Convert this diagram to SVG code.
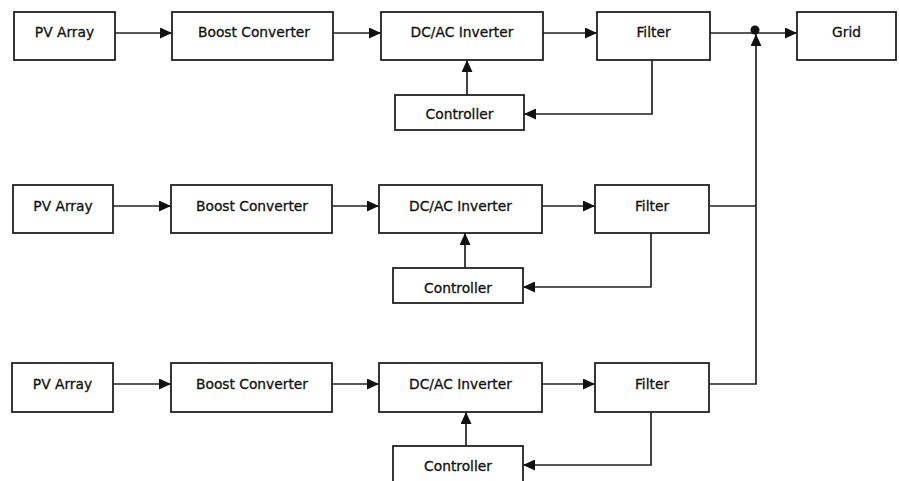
<svg xmlns="http://www.w3.org/2000/svg" width="899" height="481" viewBox="0 0 899 481">
  <style>
    .box { fill: #ffffff; stroke: #222222; stroke-width: 1.8; }
    .lbl { font-family: "DejaVu Sans", "Liberation Sans", sans-serif; font-size: 13.8px; fill: #111111; stroke: #111111; stroke-width: 0.3; text-anchor: middle; }
    .wire { fill: none; stroke: #222222; stroke-width: 1.7; }
    .arr { marker-end: url(#head); }
  </style>
  <defs>
    <marker id="head" markerUnits="userSpaceOnUse" markerWidth="12" markerHeight="11" refX="12" refY="5.5" orient="auto">
      <path d="M0,0 L12,5.5 L0,11 z" fill="#111111"/>
    </marker>
  </defs>
  <rect width="899" height="481" fill="#ffffff"/>

  <!-- connectors -->
  <g id="connectors">
    <!-- branch 1 -->
    <line class="wire arr" x1="115" y1="33" x2="172" y2="33"/>
    <line class="wire arr" x1="333" y1="33" x2="381" y2="33"/>
    <line class="wire arr" x1="543" y1="33" x2="597" y2="33"/>
    <line class="wire arr" x1="467" y1="95" x2="467" y2="60"/>
    <polyline class="wire arr" points="652,60 652,114 524,114"/>
    <line class="wire" x1="710" y1="33" x2="755" y2="33"/>
    <line class="wire arr" x1="755" y1="33" x2="797" y2="33"/>
    <!-- branch 2 -->
    <line class="wire arr" x1="113" y1="206" x2="171" y2="206"/>
    <line class="wire arr" x1="332" y1="206" x2="379" y2="206"/>
    <line class="wire arr" x1="542" y1="206" x2="595" y2="206"/>
    <line class="wire arr" x1="465" y1="268" x2="465" y2="233"/>
    <polyline class="wire arr" points="651,233 651,287 523,287"/>
    <line class="wire" x1="709" y1="206" x2="756" y2="206"/>
    <!-- branch 3 -->
    <line class="wire arr" x1="113" y1="384" x2="171" y2="384"/>
    <line class="wire arr" x1="332" y1="384" x2="379" y2="384"/>
    <line class="wire arr" x1="542" y1="384" x2="595" y2="384"/>
    <line class="wire arr" x1="466" y1="446" x2="466" y2="412"/>
    <polyline class="wire arr" points="651,412 651,465 523,465"/>
    <!-- shared bus up to the summing junction -->
    <polyline class="wire arr" points="709,384 756,384 756,34"/>
    <circle cx="755" cy="30" r="4.5" fill="#111111"/>
  </g>

  <!-- branch 1 -->
  <g id="pv1"><rect class="box" x="14" y="12" width="101" height="48"/><text class="lbl" x="64.5" y="37">PV Array</text></g>
  <g id="boost1"><rect class="box" x="172" y="12" width="161" height="48"/><text class="lbl" x="254" y="37">Boost Converter</text></g>
  <g id="inverter1"><rect class="box" x="381" y="12" width="162" height="48"/><text class="lbl" x="462" y="37">DC/AC Inverter</text></g>
  <g id="filter1"><rect class="box" x="597" y="12" width="113" height="48"/><text class="lbl" x="653.5" y="37">Filter</text></g>
  <g id="controller1"><rect class="box" x="395" y="95" width="129" height="35"/><text class="lbl" x="459.5" y="119">Controller</text></g>
  <g id="grid"><rect class="box" x="797" y="12" width="99" height="48"/><text class="lbl" x="846.5" y="37">Grid</text></g>

  <!-- branch 2 -->
  <g id="pv2"><rect class="box" x="13" y="185" width="100" height="48"/><text class="lbl" x="63" y="211">PV Array</text></g>
  <g id="boost2"><rect class="box" x="171" y="185" width="161" height="48"/><text class="lbl" x="252" y="211">Boost Converter</text></g>
  <g id="inverter2"><rect class="box" x="379" y="185" width="163" height="48"/><text class="lbl" x="460.5" y="211">DC/AC Inverter</text></g>
  <g id="filter2"><rect class="box" x="595" y="185" width="114" height="48"/><text class="lbl" x="652" y="211">Filter</text></g>
  <g id="controller2"><rect class="box" x="393" y="268" width="130" height="35"/><text class="lbl" x="458" y="293">Controller</text></g>

  <!-- branch 3 -->
  <g id="pv3"><rect class="box" x="12" y="363" width="101" height="49"/><text class="lbl" x="62.5" y="389">PV Array</text></g>
  <g id="boost3"><rect class="box" x="171" y="363" width="161" height="49"/><text class="lbl" x="252" y="389">Boost Converter</text></g>
  <g id="inverter3"><rect class="box" x="379" y="363" width="163" height="49"/><text class="lbl" x="460.5" y="389">DC/AC Inverter</text></g>
  <g id="filter3"><rect class="box" x="595" y="363" width="114" height="49"/><text class="lbl" x="652" y="389">Filter</text></g>
  <g id="controller3"><rect class="box" x="393" y="446" width="130" height="36"/><text class="lbl" x="458" y="471">Controller</text></g>
</svg>
